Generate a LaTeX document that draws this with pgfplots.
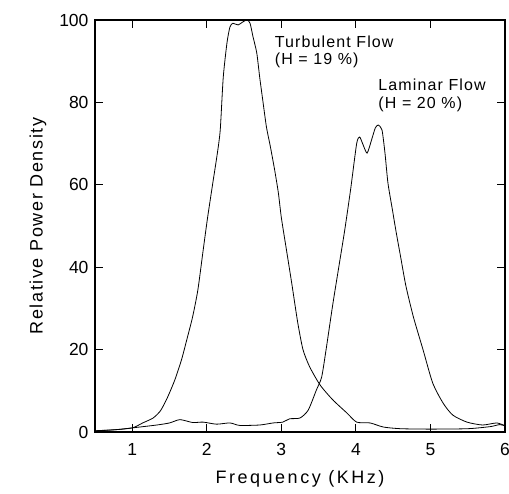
\documentclass[border=0pt]{standalone}
\usepackage{pgfplots}
\pgfplotsset{compat=1.18}
\usepackage{fontspec}
\setmainfont{Liberation Sans}
\newfontfamily\labfont[LetterSpace=14]{Liberation Sans}
\newfontfamily\ylabfont[LetterSpace=9]{Liberation Sans}
\newfontfamily\annfont[LetterSpace=7]{Liberation Sans}
\begin{document}
\begin{tikzpicture}
\path[use as bounding box] (-95pt,-61pt) rectangle (414pt,432pt);
\begin{axis}[
  scale only axis, width=410pt, height=412pt,
  xmin=0.5, xmax=6, ymin=0, ymax=100,
  xtick={1,2,3,4,5,6}, ytick={0,20,40,60,80,100},
  tick align=inside, major tick length=8pt,
  axis line style={line width=1.2pt}, tick style={line width=1pt, black},
  /pgf/number format/assume math mode=true,
  ticklabel style={font=\fontsize{17.5}{19}\selectfont},
  xticklabel style={yshift=-8pt},
  yticklabel style={xshift=-3pt},
  xlabel={\labfont\fontsize{18}{20}\selectfont Frequency (KHz)},
  ylabel={\ylabfont\fontsize{18}{20}\selectfont Relative Power Density},
  xlabel style={yshift=-8pt},
  ylabel style={yshift=6pt},
]
\addplot[black, line width=0.8pt, smooth, tension=0.4] coordinates {
(0.5,0.3) (0.74,0.5) (1.0,1.0) (1.14,2.2) (1.28,3.4) (1.38,5.2) (1.47,8.3) (1.57,12.6) (1.66,17.5) (1.73,22.3) (1.81,28) (1.88,34.5) (1.95,44) (2.01,52) (2.08,60.4) (2.14,67.5) (2.18,73.3) (2.22,86) (2.27,94.4) (2.31,98.3) (2.35,99.2) (2.42,98.8) (2.48,99.5) (2.54,100) (2.58,99.2) (2.62,95.9) (2.67,92) (2.71,86) (2.75,80.6) (2.8,74) (2.85,69.5) (2.91,63.6) (2.96,58) (3.0,52) (3.07,44) (3.14,36) (3.22,26.5) (3.29,20) (3.38,15.8) (3.52,11.4) (3.69,7.8) (3.88,4.6) (4.01,2.4) (4.19,2.2) (4.37,1.2) (4.6,0.8) (5.0,0.7) (5.5,0.8) (5.8,1.3) (5.93,1.8) (6,1.5)
};
\addplot[black, line width=0.8pt, smooth, tension=0.4] coordinates {
(0.5,0.3) (0.8,0.6) (1.0,1.0) (1.33,1.7) (1.5,2.2) (1.64,3.0) (1.81,2.3) (1.95,2.4) (2.13,1.9) (2.31,2.2) (2.44,1.6) (2.71,1.7) (2.89,2.2) (3.02,2.4) (3.11,3.2) (3.25,3.4) (3.36,5.3) (3.47,10.2) (3.54,13.3) (3.6,20) (3.69,31) (3.77,40) (3.85,49) (3.93,59) (4.01,70) (4.05,71.6) (4.09,70) (4.15,67.7) (4.21,70.9) (4.26,73.8) (4.3,74.5) (4.35,73.3) (4.39,67.7) (4.43,60.4) (4.49,53.9) (4.54,48.5) (4.60,42.5) (4.67,35.5) (4.77,28) (4.9,20) (5.03,11.9) (5.17,7) (5.3,4.1) (5.49,2.4) (5.7,1.7) (5.89,2.2) (6,1.5)
};
\node[anchor=base west, inner sep=0pt, font=\annfont\fontsize{16}{18}\selectfont] at (axis cs:2.91,93.4) {Turbulent Flow};
\node[anchor=base west, inner sep=0pt, font=\annfont\fontsize{16}{18}\selectfont] at (axis cs:2.91,89.1) {(H = 19 \%)};
\node[anchor=base west, inner sep=0pt, font=\annfont\fontsize{16}{18}\selectfont] at (axis cs:4.30,82.8) {Laminar Flow};
\node[anchor=base west, inner sep=0pt, font=\annfont\fontsize{16}{18}\selectfont] at (axis cs:4.30,78.4) {(H = 20 \%)};
\end{axis}
\end{tikzpicture}
\end{document}
